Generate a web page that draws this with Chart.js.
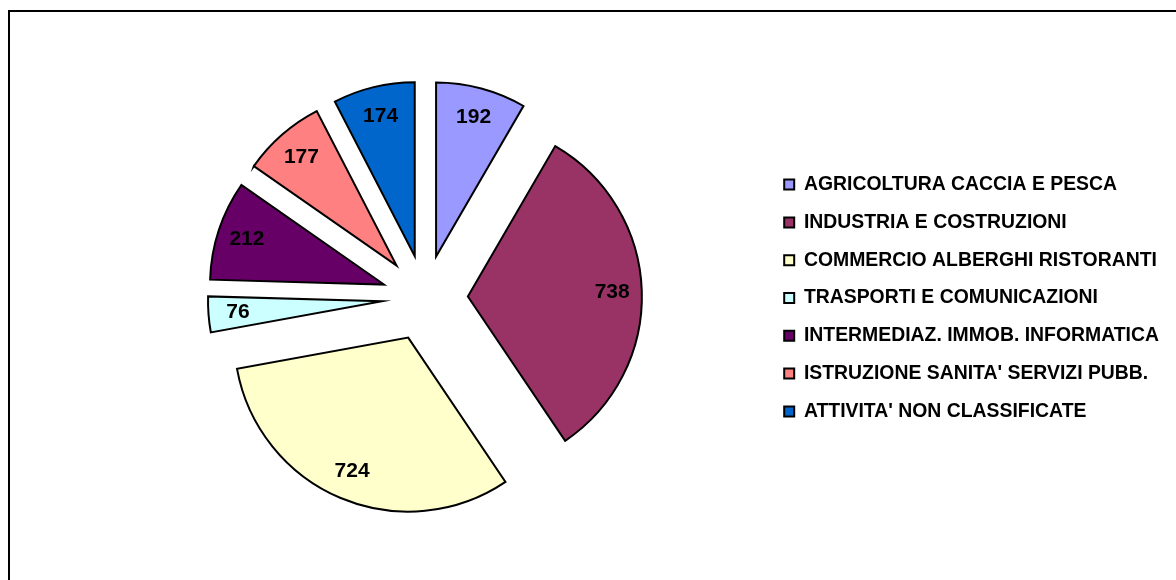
<!DOCTYPE html>
<html>
<head>
<meta charset="utf-8">
<script src="https://cdn.jsdelivr.net/npm/chart.js@4/dist/chart.umd.min.js"></script>
<style>
  html, body { margin: 0; padding: 0; background: #fff; overflow: hidden; }
  #wrap { position: relative; width: 1176px; height: 580px; }
  #frame { position: absolute; left: 8px; top: 10px; width: 1300px; height: 700px; border: 2px solid #000; box-sizing: border-box; }
  canvas { position: absolute; left: 0; top: 0; }
</style>
</head>
<body>
<div id="wrap">
  <div id="frame"></div>
  <canvas id="c" width="1176" height="580"></canvas>
</div>
<script>
const categories = [
  "AGRICOLTURA CACCIA E PESCA",
  "INDUSTRIA E COSTRUZIONI",
  "COMMERCIO ALBERGHI RISTORANTI",
  "TRASPORTI E COMUNICAZIONI",
  "INTERMEDIAZ. IMMOB. INFORMATICA",
  "ISTRUZIONE SANITA' SERVIZI PUBB.",
  "ATTIVITA' NON CLASSIFICATE"
];
const values = [192, 738, 724, 76, 212, 177, 174];
const colors = ["#9999FF", "#993366", "#FFFFCC", "#CCFFFF", "#660066", "#FF8080", "#0066CC"];

const EXPLODE = 43;
const LABEL_FRAC = 0.83;

const explodePlugin = {
  id: 'explode',
  beforeDatasetDraw(chart, args) {
    const ctx = chart.ctx;
    const meta = args.meta;
    meta.data.forEach(el => {
      const mid = (el.startAngle + el.endAngle) / 2;
      ctx.save();
      ctx.translate(Math.cos(mid) * EXPLODE, Math.sin(mid) * EXPLODE);
      el.draw(ctx);
      ctx.restore();
    });
    return false;
  },
  afterDatasetsDraw(chart) {
    const ctx = chart.ctx;
    const meta = chart.getDatasetMeta(0);
    const data = chart.data.datasets[0].data;
    ctx.save();
    ctx.font = 'bold 21px "Liberation Sans", Arial, sans-serif';
    ctx.fillStyle = '#000';
    ctx.textAlign = 'center';
    ctx.textBaseline = 'middle';
    meta.data.forEach((el, i) => {
      const mid = (el.startAngle + el.endAngle) / 2;
      const dist = EXPLODE + el.outerRadius * LABEL_FRAC;
      ctx.fillText(String(data[i]), el.x + Math.cos(mid) * dist, el.y + Math.sin(mid) * dist);
    });
    ctx.restore();
  }
};

new Chart(document.getElementById('c'), {
  type: 'pie',
  data: {
    labels: categories,
    datasets: [{
      data: values,
      backgroundColor: colors,
      borderColor: '#000',
      borderWidth: 2,
      borderJoinStyle: 'miter'
    }]
  },
  options: {
    responsive: false,
    animation: false,
    events: [],
    radius: 174,
    layout: { padding: { left: 84, right: 7, top: 16, bottom: 0 } },
    plugins: {
      tooltip: { enabled: false },
      legend: {
        position: 'right',
        labels: {
          boxWidth: 10,
          boxHeight: 10,
          padding: 18.4,
          color: '#000',
          font: { family: '"Liberation Sans", Arial, sans-serif', size: 19.4, weight: 'bold' }
        }
      }
    }
  },
  plugins: [explodePlugin]
});
</script>
</body>
</html>
